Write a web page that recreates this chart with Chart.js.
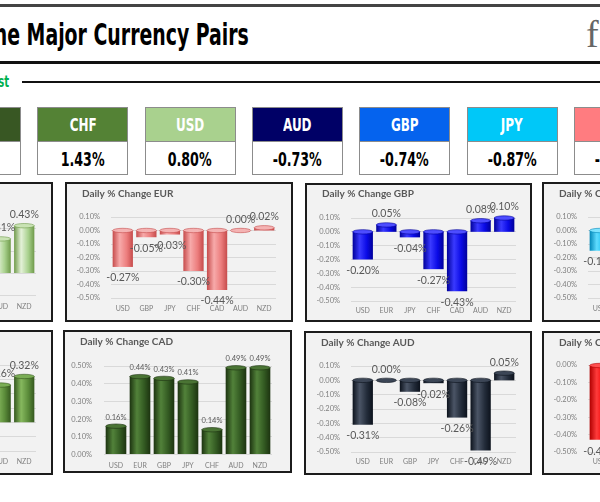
<!DOCTYPE html>
<html>
<head>
<meta charset="utf-8">
<script src="https://cdn.jsdelivr.net/npm/chart.js@4"></script>
<style>
  html, body { margin: 0; padding: 0; }
  body { width: 600px; height: 502px; overflow: hidden; position: relative; background: #fff; font-family: Lato, sans-serif; }
  .heavy { position: absolute; font-family: "DejaVu Sans Condensed", "DejaVu Sans", sans-serif; font-weight: bold; white-space: nowrap; }
  .rule { position: absolute; background: #111; }
  .box { position: absolute; top: 107px; width: 91px; height: 68px; border: 1px solid #8c8c8c; background: #fff; box-sizing: border-box; }
  .box .hd { height: 33px; border-bottom: 1px solid #8c8c8c; display: flex; align-items: center; justify-content: center; }
  .box .val { height: 33px; display: flex; align-items: center; justify-content: center; }
  .box span { font-family: "DejaVu Sans Condensed", "DejaVu Sans", sans-serif; font-weight: bold; display: inline-block; transform: scaleX(0.74); white-space: nowrap; }
  .panel { position: absolute; border: 2px solid #1c1c1c; background: #f2f2f2; box-sizing: border-box; overflow: hidden; }
  .panel canvas { display: block; }
</style>
</head>
<body>
<div class="rule" style="left:0;top:4px;width:600px;height:3px;background:#444"></div>
<div class="heavy" id="mainTitle" style="right:351px;top:17px;font-size:30px;color:#000;transform:scaleX(0.70);transform-origin:right center">The Major Currency Pairs</div>
<div style="position:absolute;left:586px;top:12px;font-family:'Liberation Serif',serif;font-size:38px;color:#666">f</div>
<div class="rule" style="left:0;top:61px;width:600px;height:3px"></div>
<div class="heavy" style="right:591px;top:72px;font-size:16px;color:#00b050;transform:scaleX(0.7);transform-origin:right center">Strongest to Weakest</div>
<div class="rule" style="left:22px;top:81px;width:578px;height:2px"></div>
<div id="boxes"></div>

<script>
// strength boxes
const boxNames = ['CAD', 'CHF', 'USD', 'AUD', 'GBP', 'JPY', 'EUR'];
const boxValues = ['2.56%', '1.43%', '0.80%', '-0.73%', '-0.74%', '-0.87%', '-1.07%'];
const boxColors = ['#385723', '#548235', '#a9d18e', '#000066', '#0563ee', '#00c8f8', '#ff7c80'];

// daily % change per currency
const usdLabels = ['EUR', 'GBP', 'JPY', 'CHF', 'CAD', 'AUD', 'NZD'];
const usdValues = [0.27, 0.20, 0.15, -0.03, -0.16, 0.31, 0.43];
const eurLabels = ['USD', 'GBP', 'JPY', 'CHF', 'CAD', 'AUD', 'NZD'];
const eurValues = [-0.27, -0.05, -0.03, -0.30, -0.44, 0.00, 0.02];
const gbpLabels = ['USD', 'EUR', 'JPY', 'CHF', 'CAD', 'AUD', 'NZD'];
const gbpValues = [-0.20, 0.05, -0.04, -0.27, -0.43, 0.08, 0.10];
const jpyLabels = ['USD', 'EUR', 'GBP', 'CHF', 'CAD', 'AUD', 'NZD'];
const jpyValues = [-0.15, 0.03, 0.04, -0.20, -0.41, 0.02, 0.10];
const chfLabels = ['USD', 'EUR', 'GBP', 'JPY', 'CAD', 'AUD', 'NZD'];
const chfValues = [0.03, 0.30, 0.27, 0.20, -0.14, 0.26, 0.32];
const cadLabels = ['USD', 'EUR', 'GBP', 'JPY', 'CHF', 'AUD', 'NZD'];
const cadValues = [0.16, 0.44, 0.43, 0.41, 0.14, 0.49, 0.49];
const audLabels = ['USD', 'EUR', 'GBP', 'JPY', 'CHF', 'CAD', 'NZD'];
const audValues = [-0.31, 0.00, -0.08, -0.02, -0.26, -0.49, 0.05];
const nzdLabels = ['USD', 'EUR', 'GBP', 'JPY', 'CHF', 'CAD', 'AUD'];
const nzdValues = [-0.43, -0.02, -0.10, -0.10, -0.32, -0.49, -0.05];

// build the boxes row
const boxesEl = document.getElementById('boxes');
boxNames.forEach((name, i) => {
  const b = document.createElement('div');
  b.className = 'box';
  b.style.left = (-70 + i * 107.3) + 'px';
  b.innerHTML = '<div class="hd" style="background:' + boxColors[i] + '"><span style="font-size:18px;color:#fff">' + name + '</span></div>' +
    '<div class="val"><span style="font-size:19px;color:#000">' + boxValues[i] + '</span></div>';
  boxesEl.appendChild(b);
});

// cylinder cap + data labels at the end of each bar
const valueLabels = {
  id: 'valueLabels',
  afterDatasetsDraw(chart, args, opts) {
    const ctx = chart.ctx;
    const data = chart.data.datasets[0].data;
    ctx.save();
    chart.getDatasetMeta(0).data.forEach((bar) => {
      const top = Math.min(bar.y, bar.base);
      ctx.beginPath();
      ctx.ellipse(bar.x, top, bar.width / 2, 2.2, 0, 0, Math.PI * 2);
      ctx.fillStyle = opts.cap;
      ctx.fill();
      ctx.strokeStyle = opts.edge;
      ctx.lineWidth = 0.6;
      ctx.stroke();
    });
    ctx.font = opts.size + 'px Lato';
    ctx.fillStyle = '#595959';
    ctx.textAlign = 'center';
    ctx.textBaseline = 'middle';
    chart.getDatasetMeta(0).data.forEach((bar, i) => {
      const v = data[i];
      const y = v < 0 ? bar.y + opts.gap : bar.y - opts.gap;
      ctx.fillText(v.toFixed(2) + '%', bar.x, y);
    });
    ctx.restore();
  }
};

// panel title drawn at a fixed spot
const panelTitle = {
  id: 'panelTitle',
  afterDraw(chart, args, opts) {
    const ctx = chart.ctx;
    ctx.save();
    ctx.font = 'bold 10px Lato';
    ctx.fillStyle = '#595959';
    ctx.textBaseline = 'middle';
    ctx.fillText(opts.text, opts.x, opts.y);
    ctx.restore();
  }
};

function makePanel(p) {
  const div = document.createElement('div');
  div.className = 'panel';
  div.style.left = p.left + 'px';
  div.style.top = p.top + 'px';
  div.style.width = p.w + 'px';
  div.style.height = p.h + 'px';
  const cw = p.w - 4, chh = p.h - 4;
  const canvas = document.createElement('canvas');
  canvas.width = cw; canvas.height = chh;
  canvas.style.width = cw + 'px'; canvas.style.height = chh + 'px';
  div.appendChild(canvas);
  document.body.appendChild(div);

  const plotL = p.plot[0] - 2, plotR = p.plot[1] - 2, plotT = p.plot[2] - 2, plotB = p.plot[3] - 2;
  const n = p.labels.length;
  const barPct = 0.86;

  new Chart(canvas.getContext('2d'), {
    type: 'bar',
    data: {
      labels: p.labels,
      datasets: [{
        data: p.values,
        barPercentage: barPct,
        categoryPercentage: 1,
        backgroundColor: (c) => {
          const xs = c.chart.scales.x;
          if (!xs || c.dataIndex === undefined) return p.colors[2];
          const cx = xs.getPixelForValue(c.dataIndex);
          const hw = xs.width / n * barPct / 2;
          if (!isFinite(cx) || !isFinite(hw) || hw <= 0) return p.colors[2];
          const g = c.chart.ctx.createLinearGradient(cx - hw, 0, cx + hw, 0);
          g.addColorStop(0, p.colors[0]);
          g.addColorStop(0.35, p.colors[1]);
          g.addColorStop(0.7, p.colors[2]);
          g.addColorStop(1, p.colors[0]);
          return g;
        }
      }]
    },
    options: {
      responsive: false,
      animation: false,
      layout: { padding: { left: 0, top: plotT, right: cw - plotR, bottom: 0 } },
      plugins: {
        legend: { display: false },
        tooltip: { enabled: false },
        valueLabels: { size: p.labelSize, gap: p.labelGap, cap: p.colors[3], edge: p.colors[0] },
        panelTitle: { text: p.title, x: 15, y: p.titleY - 2 }
      },
      scales: {
        x: {
          grid: { display: false, drawTicks: false },
          border: { display: false },
          ticks: { color: '#7f7f7f', font: { family: 'Lato', size: 7 }, padding: p.xPad },
          afterFit: (s) => { s.height = chh - plotB; }
        },
        y: {
          min: p.min, max: p.max,
          grid: { color: '#d9d9d9', drawTicks: false },
          border: { display: false },
          ticks: {
            stepSize: 0.1,
            color: '#7f7f7f',
            font: { family: 'Lato', size: 7.5 },
            padding: p.yPad,
            callback: (v) => (Math.round(v * 100) / 100).toFixed(2) + '%'
          },
          afterFit: (s) => { s.width = plotL; }
        }
      }
    },
    plugins: [valueLabels, panelTitle]
  });
}

const panels = [
  { title: 'Daily % Change USD', labels: usdLabels, values: usdValues, min: -0.2, max: 0.5,
    left: -175, top: 182, w: 228, h: 140, plot: [46, 211, 36, 113], titleY: 12, xPad: 8, yPad: 11,
    colors: ['#6f9a4a', '#e4f1d8', '#a9d18e', '#c9e3b4'], labelSize: 10.5, labelGap: 11 },
  { title: 'Daily % Change EUR', labels: eurLabels, values: eurValues, min: -0.5, max: 0.1,
    left: 65, top: 182, w: 228, h: 140, plot: [46, 211, 35, 116], titleY: 12, xPad: 7, yPad: 11,
    colors: ['#c64b4b', '#f7aaaa', '#ec7d7d', '#f4b3b3'], labelSize: 10.5, labelGap: 11 },
  { title: 'Daily % Change GBP', labels: gbpLabels, values: gbpValues, min: -0.5, max: 0.1,
    left: 305, top: 183, w: 227, h: 139, plot: [46, 211, 35, 118], titleY: 11, xPad: 6, yPad: 11,
    colors: ['#00009a', '#3a3aff', '#0a0ae6', '#4d4dff'], labelSize: 10.5, labelGap: 11 },
  { title: 'Daily % Change JPY', labels: jpyLabels, values: jpyValues, min: -0.5, max: 0.1,
    left: 542, top: 182, w: 228, h: 140, plot: [46, 211, 35, 116], titleY: 12, xPad: 7, yPad: 11,
    colors: ['#0086b8', '#5fdcff', '#16bdf0', '#7fe4ff'], labelSize: 10.5, labelGap: 11 },
  { title: 'Daily % Change CHF', labels: chfLabels, values: chfValues, min: -0.2, max: 0.4,
    left: -175, top: 330, w: 228, h: 145, plot: [46, 211, 35, 121], titleY: 13, xPad: 7, yPad: 11,
    colors: ['#35581f', '#86b85e', '#5b8c3a', '#7aad55'], labelSize: 10.5, labelGap: 11 },
  { title: 'Daily % Change CAD', labels: cadLabels, values: cadValues, min: 0, max: 0.5,
    left: 63, top: 330, w: 229, h: 143, plot: [41, 209, 36, 125], titleY: 12, xPad: 7, yPad: 12,
    colors: ['#1c3310', '#52823a', '#335a22', '#4a7434'], labelSize: 7.5, labelGap: 9 },
  { title: 'Daily % Change AUD', labels: audLabels, values: audValues, min: -0.5, max: 0.1,
    left: 304, top: 331, w: 228, h: 144, plot: [47, 212, 35, 121], titleY: 12, xPad: 6, yPad: 11,
    colors: ['#0c121c', '#4b5566', '#232c3a', '#3c4656'], labelSize: 10.5, labelGap: 11 },
  { title: 'Daily % Change NZD', labels: nzdLabels, values: nzdValues, min: -0.5, max: 0,
    left: 542, top: 331, w: 228, h: 144, plot: [46, 211, 34, 121], titleY: 12, xPad: 6, yPad: 11,
    colors: ['#b00000', '#ff3b3b', '#f00000', '#ff5050'], labelSize: 10.5, labelGap: 12 }
];

panels.forEach(makePanel);
</script>
</body>
</html>
